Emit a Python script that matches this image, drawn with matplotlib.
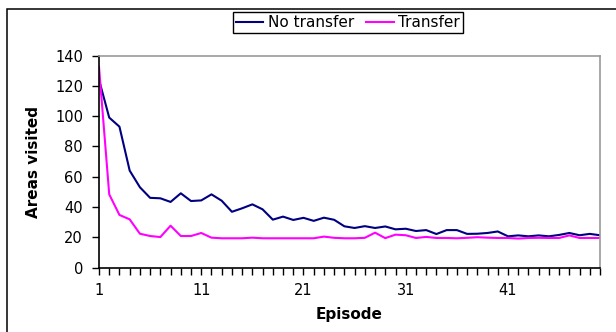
import matplotlib
matplotlib.use("Agg")
import matplotlib.pyplot as plt
from matplotlib.patches import Rectangle

plt.rcParams['font.family'] = ['DejaVu Sans']

episodes = list(range(1, 51))
no_transfer = [124, 99, 93, 64, 53, 46, 45.7, 43.3, 49, 43.9,
               44.3, 48.3, 44.1, 36.8, 39.1, 41.7, 38.4, 31.6, 33.6, 31.4,
               32.8, 30.8, 32.9, 31.5, 27.2, 26.1, 27.3, 26.1, 27.1, 25.2,
               25.6, 24.1, 24.7, 22.1, 24.7, 24.7, 22.2, 22.3, 22.8, 23.8,
               20.6, 21.2, 20.6, 21.2, 20.6, 21.5, 22.8, 21.3, 22.2, 21.3]
transfer = [132.5, 48.3, 34.7, 31.8, 22.3, 20.8, 20.1, 27.6, 20.8, 20.8,
            22.8, 19.7, 19.3, 19.3, 19.3, 19.7, 19.3, 19.3, 19.3, 19.3,
            19.3, 19.3, 20.4, 19.6, 19.3, 19.3, 19.6, 23.0, 19.4, 21.7,
            21.3, 19.5, 20.2, 19.5, 19.5, 19.3, 19.6, 20.0, 19.7, 19.5,
            19.5, 19.1, 19.5, 19.6, 19.5, 19.5, 21.2, 19.5, 19.5, 19.5]
series_labels = ["No transfer", "Transfer"]
y_ticks = [0, 20, 40, 60, 80, 100, 120, 140]
x_label_ticks = [1, 11, 21, 31, 41]

W, H = 616, 332
fig = plt.figure(figsize=(W / 100, H / 100), dpi=100)
fig.patch.set_facecolor('white')

# outer chart-area border
fig.patches.append(Rectangle((7 / W, -0.1), 1.2, 1 - 9 / H + 0.1,
                             transform=fig.transFigure, fill=False,
                             edgecolor='black', linewidth=1.1))

ax = fig.add_axes([99 / W, 1 - 267.5 / H, (600 - 99) / W, (267.5 - 55.5) / H])
l1, = ax.plot(episodes, no_transfer, color='#000080', lw=1.5, label=series_labels[0])
l2, = ax.plot(episodes, transfer, color='#FF00FF', lw=1.5, label=series_labels[1])

ax.set_xlim(1, 50)
ax.set_ylim(0, 140)
ax.set_yticks(y_ticks)
ax.set_xticks(episodes)
ax.set_xticklabels([str(e) if e in x_label_ticks else '' for e in episodes])
ax.tick_params(axis='both', direction='out', length=5, width=1, labelsize=10.5,
               colors='black')
ax.tick_params(axis='y', pad=6.5)
ax.tick_params(axis='x', pad=6)

for s in ['left', 'bottom']:
    ax.spines[s].set_color('black')
    ax.spines[s].set_linewidth(1.2)
for s in ['top', 'right']:
    ax.spines[s].set_color('#999999')
    ax.spines[s].set_linewidth(1.2)

ax.set_xlabel('Episode', fontsize=11, fontweight='bold', labelpad=7)
ax.set_ylabel('Areas visited', fontsize=11, fontweight='bold', labelpad=10)

leg = fig.legend(handles=[l1, l2], loc='upper center',
                 bbox_to_anchor=(348 / W, 1 - 12 / H), ncol=2, fontsize=11,
                 frameon=True, fancybox=False, framealpha=1, edgecolor='black',
                 handlelength=1.8, handletextpad=0.3, columnspacing=0.8,
                 borderpad=0.2, borderaxespad=0)
leg.get_frame().set_linewidth(1.0)

fig.savefig('out.png', dpi=100)
